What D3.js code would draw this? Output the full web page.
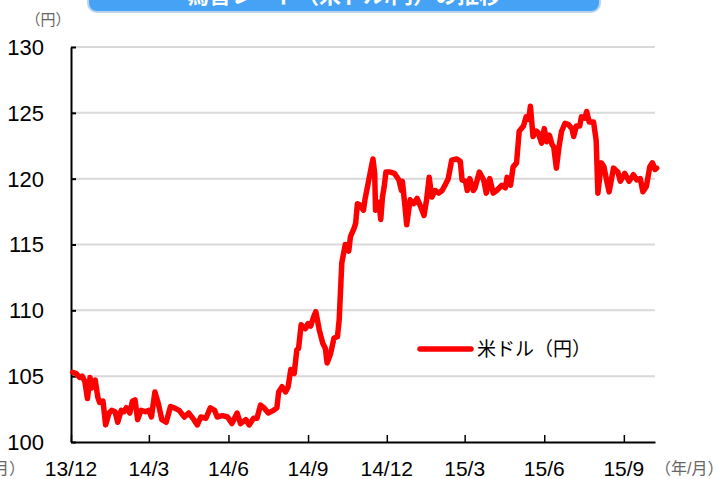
<!DOCTYPE html>
<html>
<head>
<meta charset="utf-8">
<script src="https://cdn.jsdelivr.net/npm/d3@7"></script>
<style>
  body { margin: 0; background: #fff; }
  text { font-family: "Liberation Sans", Arial, "Noto Sans CJK JP", sans-serif; }
</style>
</head>
<body>
<div id="chart"></div>
<script>
var title = "為替レート（米ドル/円）の推移";
var seriesName = "米ドル（円）";
var yTicks = [100, 105, 110, 115, 120, 125, 130];
var xTickDates = ["2013-12-01", "2014-03-01", "2014-06-01", "2014-09-01", "2014-12-01", "2015-03-01", "2015-06-01", "2015-09-01"];
var xTickLabels = ["13/12", "14/3", "14/6", "14/9", "14/12", "15/3", "15/6", "15/9"];

var dates = [
  "2013-12-03", "2013-12-07", "2013-12-11", "2013-12-14", "2013-12-17", "2013-12-20", "2013-12-23", "2013-12-25", "2013-12-29",
  "2014-01-01", "2014-01-03", "2014-01-07", "2014-01-10", "2014-01-14", "2014-01-17", "2014-01-21", "2014-01-24", "2014-01-28", "2014-01-31",
  "2014-02-03", "2014-02-07", "2014-02-10", "2014-02-13", "2014-02-16", "2014-02-20", "2014-02-25",
  "2014-03-01", "2014-03-04", "2014-03-08", "2014-03-12", "2014-03-16", "2014-03-21", "2014-03-26", "2014-03-30",
  "2014-04-05", "2014-04-11", "2014-04-16", "2014-04-22", "2014-04-26", "2014-04-30",
  "2014-05-06", "2014-05-11", "2014-05-16", "2014-05-19", "2014-05-25", "2014-05-31",
  "2014-06-05", "2014-06-11", "2014-06-15", "2014-06-21", "2014-06-25", "2014-06-30",
  "2014-07-04", "2014-07-08", "2014-07-12", "2014-07-17", "2014-07-23", "2014-07-27", "2014-07-29",
  "2014-08-02", "2014-08-06", "2014-08-09", "2014-08-12", "2014-08-16", "2014-08-19", "2014-08-21", "2014-08-24", "2014-08-29",
  "2014-09-01", "2014-09-04", "2014-09-08", "2014-09-10", "2014-09-14", "2014-09-18", "2014-09-21", "2014-09-23", "2014-09-27",
  "2014-10-01", "2014-10-05", "2014-10-07", "2014-10-10", "2014-10-14", "2014-10-18", "2014-10-20", "2014-10-24", "2014-10-26", "2014-10-28", "2014-10-31",
  "2014-11-04", "2014-11-06", "2014-11-09", "2014-11-12", "2014-11-15", "2014-11-17", "2014-11-18", "2014-11-22", "2014-11-24", "2014-11-26", "2014-11-28", "2014-11-30",
  "2014-12-05", "2014-12-10", "2014-12-15", "2014-12-18", "2014-12-19", "2014-12-22", "2014-12-24", "2014-12-28",
  "2015-01-01", "2015-01-05", "2015-01-09", "2015-01-13", "2015-01-16", "2015-01-19", "2015-01-22", "2015-01-26", "2015-01-30",
  "2015-02-03", "2015-02-07", "2015-02-10", "2015-02-14", "2015-02-20", "2015-02-24", "2015-02-26",
  "2015-03-02", "2015-03-04", "2015-03-07", "2015-03-11", "2015-03-13", "2015-03-18", "2015-03-23", "2015-03-26", "2015-03-30",
  "2015-04-03", "2015-04-07", "2015-04-13", "2015-04-17", "2015-04-19", "2015-04-23", "2015-04-26", "2015-04-30",
  "2015-05-03", "2015-05-08", "2015-05-11", "2015-05-14", "2015-05-16", "2015-05-19", "2015-05-23", "2015-05-25", "2015-05-29",
  "2015-06-01", "2015-06-04", "2015-06-07", "2015-06-10", "2015-06-12", "2015-06-15", "2015-06-18", "2015-06-21", "2015-06-25", "2015-06-29",
  "2015-07-03", "2015-07-05", "2015-07-08", "2015-07-12", "2015-07-14", "2015-07-18", "2015-07-20", "2015-07-23", "2015-07-28", "2015-07-31",
  "2015-08-02", "2015-08-06", "2015-08-09", "2015-08-12", "2015-08-15", "2015-08-20", "2015-08-25", "2015-08-28",
  "2015-09-02", "2015-09-07", "2015-09-12", "2015-09-16", "2015-09-20", "2015-09-23", "2015-09-27",
  "2015-10-01", "2015-10-04", "2015-10-07", "2015-10-09"
];

var usdJpy = [
  105.3, 105.2, 104.9, 105.0, 104.6, 103.3, 104.9, 104.1, 104.7,
  103.4, 103.0, 103.1, 101.3, 102.2, 102.4, 102.3, 101.5, 102.4, 102.3,
  102.6, 102.2, 103.1, 103.2, 101.7, 102.4, 102.3,
  102.4, 101.9, 103.8, 102.9, 101.7, 101.5, 102.7, 102.6,
  102.4, 101.9, 102.2, 101.7, 101.3, 101.9,
  101.8, 102.6, 102.4, 101.9, 102.0, 101.9,
  101.4, 102.2, 101.4, 101.7, 101.3, 101.8,
  101.8, 102.8, 102.6, 102.2, 102.4, 102.6, 103.8,
  104.2, 103.8, 104.2, 105.5, 105.2, 107.0, 107.1, 108.9, 108.6,
  109.0, 108.8, 109.6, 109.9, 108.5, 107.5, 107.1, 106.0, 106.7,
  107.9, 108.0, 109.3, 113.6, 115.0, 114.5, 115.6, 116.2, 116.6, 118.1, 118.0,
  117.6, 118.5, 119.5, 120.5, 121.5, 120.4, 117.6, 118.2, 116.9, 118.6, 119.4, 120.5,
  120.5, 120.4, 119.9, 119.1, 119.8, 117.9, 116.5, 118.4,
  118.1, 118.5, 117.9, 117.2, 118.4, 120.1, 118.6, 119.1, 118.9,
  119.1, 119.6, 120.0, 121.4, 121.5, 121.3, 119.9,
  119.8, 119.1, 120.0, 119.1, 119.3, 120.5, 119.9, 118.9, 120.0,
  118.9, 119.1, 119.5, 119.3, 120.1, 119.5, 120.9, 121.2,
  123.6, 124.0, 124.7, 124.5, 125.5, 123.2, 123.6, 123.5, 122.7,
  123.8, 122.8, 123.3, 122.6, 122.4, 120.8, 122.4, 123.6, 124.2, 124.1,
  123.8, 123.2, 124.0, 124.0, 124.7, 124.6, 125.1, 124.3, 124.3, 122.9,
  118.9, 121.2, 120.9, 119.9, 119.0, 120.8, 120.5, 119.8,
  120.4, 119.8, 120.3, 119.9, 120.0, 119.0, 119.4,
  120.9, 121.2, 120.7, 120.8
];

var parse = d3.timeParse("%Y-%m-%d");
var data = dates.map(function(d, i) { return { date: parse(d), value: usdJpy[i] }; });

var width = 717, height = 479;
var plotLeft = 71, plotRight = 655, plotTop = 47, plotBottom = 442;

var svg = d3.select('#chart').append('svg')
  .attr('width', width).attr('height', height);

var x = d3.scaleTime()
  .domain([parse("2013-12-01"), parse("2015-10-07")])
  .range([plotLeft, plotRight]);
var y = d3.scaleLinear().domain([100, 130]).range([plotBottom, plotTop]);

// title box, mostly cut off at the top
var tg = svg.append('g');
tg.append('rect')
  .attr('x', 88).attr('y', -30).attr('width', 512).attr('height', 42)
  .attr('rx', 9).attr('ry', 9)
  .attr('fill', '#45a2f4').attr('stroke', '#b9d3ea').attr('stroke-width', 2);
tg.append('text')
  .attr('x', 344).attr('y', 3)
  .attr('text-anchor', 'middle')
  .attr('fill', '#fff').attr('font-size', 22).attr('font-weight', 'bold')
  .text(title);

// gridlines
svg.append('g').selectAll('line')
  .data(yTicks.filter(function(t) { return t > 100; }))
  .enter().append('line')
  .attr('x1', plotLeft).attr('x2', plotRight)
  .attr('y1', function(d) { return y(d); }).attr('y2', function(d) { return y(d); })
  .attr('stroke', '#d9d9d9').attr('stroke-width', 2);

// y axis
var yAxis = svg.append('g')
  .attr('transform', 'translate(' + plotLeft + ',0)')
  .call(d3.axisRight(y).tickValues(yTicks).tickSize(5).tickFormat('').tickSizeOuter(0));
yAxis.select('.domain').attr('stroke', '#000').attr('stroke-width', 2);
yAxis.selectAll('.tick line').attr('stroke', '#000').attr('stroke-width', 2);

svg.append('g').selectAll('text')
  .data(yTicks).enter().append('text')
  .attr('x', 44).attr('y', function(d) { return y(d); })
  .attr('dy', '0.36em')
  .attr('text-anchor', 'end')
  .attr('font-size', 22)
  .attr('fill', '#000')
  .text(function(d) { return d; });

// x axis
var xAxis = svg.append('g')
  .attr('transform', 'translate(0,' + plotBottom + ')')
  .call(d3.axisTop(x).tickValues(xTickDates.map(parse)).tickSize(7).tickFormat('').tickSizeOuter(0));
xAxis.select('.domain').attr('stroke', '#000').attr('stroke-width', 2);
xAxis.selectAll('.tick line').attr('stroke', '#000').attr('stroke-width', 1.5);

svg.append('g').selectAll('text')
  .data(xTickDates).enter().append('text')
  .attr('x', function(d) { return x(parse(d)); })
  .attr('y', 476)
  .attr('text-anchor', 'middle')
  .attr('font-size', 21)
  .attr('fill', '#000')
  .text(function(d, i) { return xTickLabels[i]; });

// unit labels
svg.append('text').attr('x', 48).attr('y', 25).attr('text-anchor', 'middle')
  .attr('font-size', 15).attr('fill', '#666').text('（円）');
svg.append('text').attr('x', 655).attr('y', 474)
  .attr('font-size', 16).attr('fill', '#666').text('（年/月）');
svg.append('text').attr('x', 25).attr('y', 474).attr('text-anchor', 'end')
  .attr('font-size', 16).attr('fill', '#666').text('（年/月）');

// series line
var line = d3.line()
  .x(function(d) { return x(d.date); })
  .y(function(d) { return y(d.value); });

svg.append('path')
  .datum(data)
  .attr('d', line)
  .attr('fill', 'none')
  .attr('stroke', '#ff0000')
  .attr('stroke-width', 5.5)
  .attr('stroke-linejoin', 'round')
  .attr('stroke-linecap', 'round');

// legend
var lg = svg.append('g');
lg.append('line')
  .attr('x1', 420).attr('x2', 471).attr('y1', 349).attr('y2', 349)
  .attr('stroke', '#ff0000').attr('stroke-width', 5.5).attr('stroke-linecap', 'round');
lg.append('text')
  .attr('x', 477).attr('y', 356)
  .attr('font-size', 19).attr('fill', '#000')
  .text(seriesName);
</script>
</body>
</html>
